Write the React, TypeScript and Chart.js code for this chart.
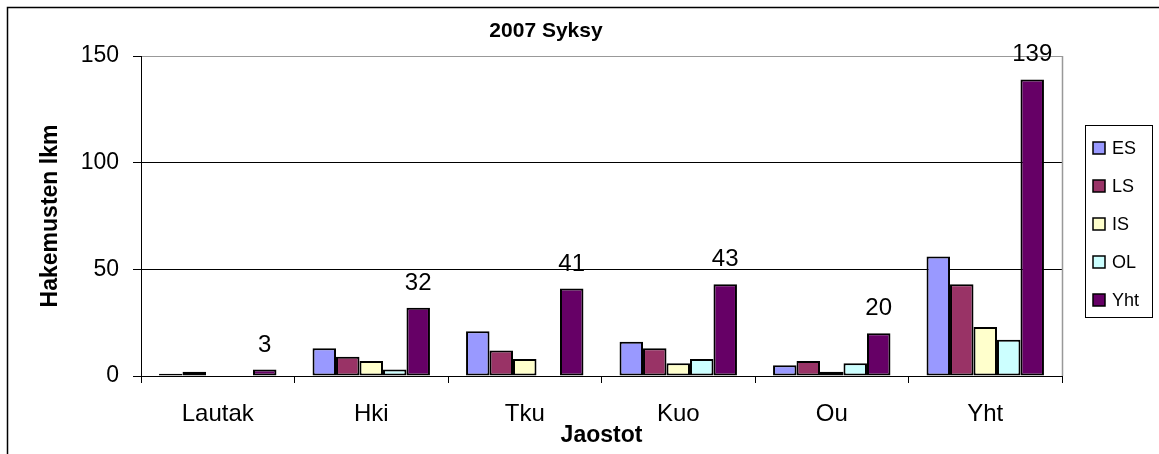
import React, { useEffect, useRef } from "react";
import { Chart, registerables } from "chart.js";

Chart.register(...registerables);

const categories = ["Lautak", "Hki", "Tku", "Kuo", "Ou", "Yht"];
const seriesNames = ["ES", "LS", "IS", "OL", "Yht"];
const esValues = [1, 13, 21, 16, 5, 56];
const lsValues = [2, 9, 12, 13, 7, 43];
const isValues = [0, 7, 8, 6, 2, 23];
const olValues = [0, 3, 0, 8, 6, 17];
const yhtValues = [3, 32, 41, 43, 20, 139];
const seriesColors = ["#9999FF", "#993366", "#FFFFCC", "#CCFFFF", "#660066"];
const yMin = 0;
const yMax = 150;
const yStep = 50;
const chartTitle = "2007 Syksy";
const xTitle = "Jaostot";
const yTitle = "Hakemusten lkm";

const FONT = '"Liberation Sans", Arial, sans-serif';

const decorPlugin = {
  id: "decor",
  beforeDraw(chart: any) {
    const ctx = chart.ctx;
    ctx.save();
    ctx.fillStyle = "#ffffff";
    ctx.fillRect(0, 0, chart.width, chart.height);
    ctx.strokeStyle = "#000000";
    ctx.lineWidth = 1.5;
    ctx.strokeRect(7.5, 7.5, chart.width + 20, chart.height + 20);
    ctx.restore();
  },
  afterDraw(chart: any) {
    const ctx = chart.ctx;
    const a = chart.chartArea;
    ctx.save();
    // plot area right border (gray)
    ctx.strokeStyle = "#999999";
    ctx.lineWidth = 1.5;
    ctx.beginPath();
    ctx.moveTo(Math.round(a.right) + 0.5, a.top);
    ctx.lineTo(Math.round(a.right) + 0.5, a.bottom);
    ctx.stroke();

    // chart title
    ctx.fillStyle = "#000000";
    ctx.font = `bold 21px ${FONT}`;
    ctx.textAlign = "center";
    ctx.textBaseline = "middle";
    ctx.fillText(chartTitle, 546, 31);

    // value labels on the total series
    const meta = chart.getDatasetMeta(4);
    ctx.font = `24px ${FONT}`;
    ctx.textBaseline = "alphabetic";
    meta.data.forEach((bar: any, i: number) => {
      ctx.fillText(String(yhtValues[i]), bar.x, bar.y - 18);
    });

    // legend
    const lx = 1085.5;
    const ly = 125.5;
    const lw = 67;
    const lh = 192;
    ctx.strokeStyle = "#000000";
    ctx.lineWidth = 1;
    ctx.strokeRect(lx, ly, lw, lh);
    ctx.font = `18px ${FONT}`;
    ctx.textAlign = "left";
    ctx.textBaseline = "middle";
    seriesNames.forEach((name, i) => {
      const cy = 148 + i * 38;
      ctx.fillStyle = seriesColors[i];
      ctx.fillRect(1093, cy - 6, 12, 12);
      ctx.strokeStyle = "#000000";
      ctx.lineWidth = 1.5;
      ctx.strokeRect(1093, cy - 6, 12, 12);
      ctx.fillStyle = "#000000";
      ctx.fillText(name, 1112, cy + 1);
    });
    ctx.restore();
  },
};

export default function App() {
  const canvasRef = useRef<HTMLCanvasElement | null>(null);

  useEffect(() => {
    const canvas = canvasRef.current;
    if (!canvas) return;
    const valueSets = [esValues, lsValues, isValues, olValues, yhtValues];
    const chart = new Chart(canvas, {
      type: "bar",
      data: {
        labels: categories,
        datasets: seriesNames.map((name, i) => ({
          label: name,
          data: valueSets[i],
          backgroundColor: seriesColors[i],
          borderColor: "#000000",
          borderWidth: 2,
          borderSkipped: false,
          categoryPercentage: 0.765,
          barPercentage: 1,
        })),
      },
      options: {
        animation: false,
        responsive: false,
        maintainAspectRatio: false,
        devicePixelRatio: 1,
        layout: { padding: { left: 8, top: 56, right: 97, bottom: 0 } },
        plugins: {
          legend: { display: false },
          title: { display: false },
          tooltip: { enabled: false },
        },
        scales: {
          x: {
            grid: {
              display: true,
              drawOnChartArea: false,
              drawTicks: true,
              tickLength: 7,
              tickColor: "#000000",
              color: "#000000",
              offset: true,
            },
            border: { display: true, color: "#000000", width: 1 },
            ticks: {
              color: "#000000",
              font: { family: FONT, size: 24 },
              padding: 17,
              maxRotation: 0,
            },
            title: {
              display: true,
              text: xTitle,
              color: "#000000",
              font: { family: FONT, size: 23, weight: "bold" },
              padding: { top: 0, bottom: 5 },
            },
            afterFit(scale: any) {
              scale.height = 78;
            },
          },
          y: {
            min: yMin,
            max: yMax,
            ticks: {
              stepSize: yStep,
              color: "#000000",
              font: { family: FONT, size: 23 },
              padding: 14,
            },
            grid: {
              drawTicks: true,
              tickLength: 8,
              tickColor: "#000000",
              color: (c: any) => (c.tick && c.tick.value === yMax ? "#999999" : "#000000"),
              lineWidth: 1,
            },
            border: { display: true, color: "#000000", width: 1 },
            title: {
              display: true,
              text: yTitle,
              color: "#000000",
              font: { family: FONT, size: 23, weight: "bold" },
              padding: { top: 29, bottom: 0 },
            },
            afterFit(scale: any) {
              scale.width = 133;
            },
          },
        },
      },
      plugins: [decorPlugin],
    } as any);
    return () => chart.destroy();
  }, []);

  return (
    <div style={{ position: "absolute", left: 0, top: 0, width: 1159, height: 454 }}>
      <canvas ref={canvasRef} width={1159} height={454} style={{ display: "block" }} />
    </div>
  );
}
